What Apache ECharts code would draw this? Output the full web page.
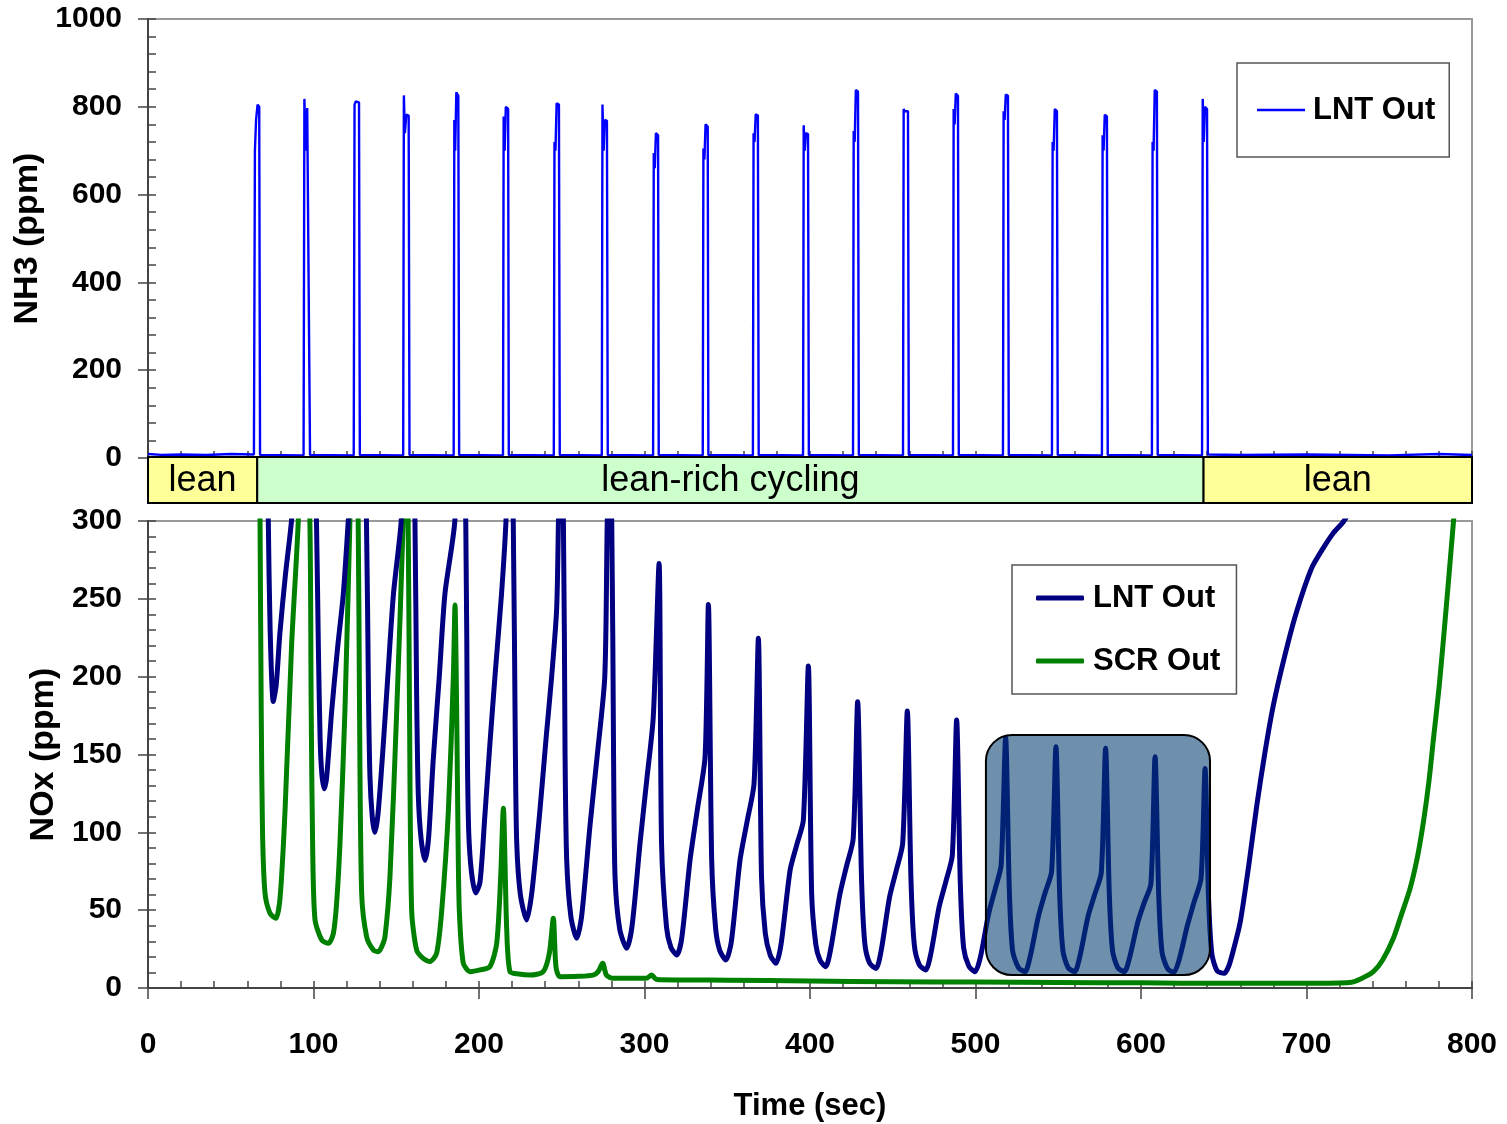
<!DOCTYPE html>
<html><head><meta charset="utf-8">
<script src="https://cdn.jsdelivr.net/npm/echarts@6/dist/echarts.min.js"></script>
<style>html,body{margin:0;padding:0;background:#fff}#c{width:1507px;height:1124px}</style>
</head><body><div id="c"></div>
<script>
// ---- tick values ----
const timeTicks = [0,100,200,300,400,500,600,700,800];
const nh3Ticks = [0,200,400,600,800,1000];
const noxTicks = [0,50,100,150,200,250,300];

// ---- series names ----
const nh3Name = 'NH3 LNT Out';
const lntName = 'NOx LNT Out';
const scrName = 'NOx SCR Out';

// ---- NH3 at LNT outlet [time s, ppm] ----
const nh3Points = [
[0,9],[8,7],[20,8],[35,7],[50,9],[64,8],
[64.6,700],[65.3,770],[66.2,805],[67.2,800],[67.7,7],
[94,6],[94.5,818],[95.3,700],[96.2,797],[97.3,795],[97.9,7],
[124.3,6],[124.8,805],[125.5,812],[126.6,812],[127.5,810],[128,7],
[154.2,6],[154.6,826],[155.2,740],[156.1,782],[157.5,780],[158,7],
[184.7,6],[185.1,770],[185.6,700],[186.3,833],[187.5,825],[188,7],
[214.5,6],[214.9,778],[215.5,700],[216.2,800],[217.6,795],[218,7],
[245.2,6],[245.6,720],[246.2,700],[246.9,808],[248.3,805],[248.8,7],
[274.2,6],[274.6,805],[275.3,700],[276,770],[277.3,768],[277.8,7],
[305.2,6],[305.6,695],[306.2,660],[306.9,740],[308.2,735],[308.6,7],
[335.2,6],[335.6,705],[336.2,680],[336.9,760],[338.2,755],[338.6,7],
[365.5,6],[365.9,740],[366.5,720],[367.2,783],[368.5,780],[369,7],
[395.8,6],[396.2,758],[396.8,700],[397.5,740],[398.8,738],[399.3,7],
[426,6],[426.4,745],[427,720],[427.7,838],[429,835],[429.5,7],
[456.2,6],[456.6,795],[457.2,790],[457.9,790],[459.2,790],[459.7,7],
[486.4,6],[486.8,795],[487.4,760],[488.1,830],[489.4,825],[489.9,7],
[516.6,6],[517,790],[517.6,770],[518.3,828],[519.6,825],[520.1,7],
[546.2,6],[546.6,720],[547.2,700],[547.9,795],[549.2,790],[549.7,7],
[576.4,6],[576.8,735],[577.4,700],[578.1,782],[579.4,778],[579.9,7],
[606.6,6],[607,720],[607.6,700],[608.3,838],[609.6,835],[610.1,7],
[636.9,6],[637.3,818],[637.9,720],[638.6,800],[639.9,795],[640.4,8],
[660,7],[700,8],[750,6],[780,9],[800,7]
];

// ---- NOx at LNT outlet [time s, ppm] (values above 300 run off the axis) ----
const lntNOx = [
[0,420],[71.5,420],[72.7,300],[73.8,230],[75.7,184],[77.5,195],[79.7,228],[83,265],[86.7,300],[98.7,450],
[101.8,300],[103,215],[104,160],[105,138],[106.5,128],[108,136],[111,178],[114.5,218],[118,253],[121,300],[128.7,430],
[132,300],[133.2,190],[134.1,136],[135.5,110],[137,100],[139,112],[142.2,157],[145.2,205],[148.3,253],[153,300],[158.7,420],
[161.3,300],[162.3,190],[163.3,125],[165,96],[167.4,82],[169.5,96],[172.3,146],[176,200],[179.4,253],[185.4,300],[188.7,400],
[192,300],[193,150],[193.8,100],[195.5,74],[198,61],[200.6,68],[203.5,110],[206.6,157],[210,205],[213.6,253],[216.3,300],[218.7,380],
[220.7,300],[222,150],[222.8,93],[225,60],[228.8,43.7],[232,62],[236.8,114],[240.5,160],[243.9,200],[246.9,243],[248,300],[248.8,350],
[251,300],[252,150],[253,82],[255.5,46],[259,31.9],[262,46],[267,103.6],[271.5,150],[276,200],[277.5,300],[278.5,330],
[280.2,300],[281.3,150],[282.2,71.5],[285,38],[289.2,25.5],[292.5,40],[297.3,93],[301.5,135],[305.3,174],[308.8,272.7],
[310.3,93],[313.3,39],[316,26],[319.5,21.2],[322.5,32],[327.5,82],[332,115],[336.6,148.6],[338.6,246.4],
[340.6,82],[343,38],[345.5,24],[349.2,18],[352.5,30],[357.7,82],[362,107],[366.2,131.5],[368.8,224.6],
[370.7,71.5],[373,35],[376,21],[379.4,15.9],[382.5,28],[388,75.8],[392,92],[396,108],[399,206.8],
[401,60.8],[403.5,28],[406,18],[409.5,13.7],[412.5,25],[418,60],[422,78],[426.1,96],[428.8,183.9],
[431.1,71.5],[433.1,28.7],[436,16],[439.9,12.6],[443,24],[448,58],[452,75],[456,93],[458.8,177.9],
[461,70],[463,28],[466,15],[469.9,11.6],[473,22],[478,52],[482,68],[486,85.4],[488.6,172.1],
[490.8,68],[492.8,26],[496,14],[499.7,10.5],[503,20],[508,48],[512,64],[515.5,79],[518.2,160.8],
[520.4,64],[522.4,24],[526,13],[529.9,10.5],[533,20],[538,46],[542,61],[546,75],[548.6,155],
[550.8,62],[552.8,24],[556,13],[559.9,10.5],[563,20],[568,46],[572,60],[576,74],[578.6,154],
[580.8,62],[582.8,24],[586,13],[589.9,10.5],[593,19],[598,42],[602,55],[606,67],[608.5,148.6],
[610.7,60],[612.7,23],[616,12.5],[619.8,10],[623,18],[628,40],[632,55],[636.3,70.5],[638.7,141],
[640.8,58],[642.8,22],[646,11],[650.2,9.4],[653,14],[656,25],[660,42.6],[665,78],[670,117.5],[675,152],
[680,181.8],[687,214],[694,241.7],[703,269.5],[710,282.4],[716,292],[722.3,299.5],[730,312],[800,380]
];

// ---- NOx at SCR outlet [time s, ppm] ----
const scrNOx = [
[0,420],[67,420],[67.7,300],[68.4,180],[69.2,100],[70.7,61],[73.7,48],[77.3,44.8],[79.8,58],[82.8,114],[86.8,221],[90.8,300],[94,420],
[97.8,300],[98.6,180],[99.5,90],[100.9,44],[105,30.8],[109,28.7],[112,35],[114,55],[116,93],[119,178.5],[122,300],[124.5,420],
[127,300],[127.8,180],[129.1,61],[132.1,33],[136.2,24.4],[139,23.3],[141,26],[143.2,33],[146.2,71.5],[150.3,178.5],[154.2,300],[155.7,380],
[157.2,300],[158,180],[159.3,50],[162.3,24.4],[166.3,19],[170.4,17],[174.4,22.3],[177.5,50],[181.5,114],[184.5,200],[185.5,246],
[186.5,178.5],[187.3,100],[188.1,50],[190.5,16],[194.6,10.5],[200.6,11.6],[206.6,13.7],[210.7,28.7],[213.1,71.5],[214.7,115.4],
[216.7,39],[218.7,10.5],[224,9],[230.8,8.3],[238.8,10.5],[242.5,22.3],[244.9,44.8],[246.5,13.7],[248.9,7.3],[260,7.5],[269,8.3],
[272,10.5],[274.7,15.9],[277,8.3],[281,6.2],[301,6.2],[304.3,8.3],[307.3,5.5],[350,5],[400,4.5],[450,4],[500,3.8],[550,3.5],
[600,3.3],[650,3],[700,3],[726,3.5],[733,6],[740.4,10.5],[746,18],[752.5,32],[757,46],[762.6,64],[767,84],[770.7,107],
[774,133],[776.7,160],[780,192],[782.8,224.6],[786,264],[788.8,299.5],[792,340]
];

// ---- operating-mode band ----
const bandLabels = ['lean','lean-rich cycling','lean'];
const bandStart = [0, 66, 637.8];
const bandEnd = [66, 637.8, 800];
const bandFill = ['#FFFF99','#CCFFCC','#FFFF99'];

// ---- highlighted region [t0, t1, yTop, yBottom] ----
const highlightBox = [[506.3, 641.7, 162.5, 8.3]];

const FONT = '"Liberation Sans", Arial, sans-serif';
const AX = '#444';
const stripName = n => n.replace(/^\S+ /, '');
const plain = v => String(v);

const gridL = 148, gridW = 1324;
const chart = echarts.init(document.getElementById('c'), null, {renderer:'canvas'});

function mainX(gi, showLabels){
  return {type:'value', gridIndex:gi, position:'bottom', min:timeTicks[0], max:timeTicks[timeTicks.length-1],
    interval:timeTicks[1]-timeTicks[0],
    axisLine:{show:true, onZero:false, lineStyle:{color:AX, width:2}},
    axisTick:{show:true, inside:false, length:11, lineStyle:{color:AX, width:1.5}},
    axisLabel:{show:showLabels, margin:42, formatter:plain, color:'#000', fontFamily:FONT, fontWeight:'bold', fontSize:30},
    splitLine:{show:false}};
}
function minorX(gi){
  return {type:'value', gridIndex:gi, position:'bottom', min:timeTicks[0], max:timeTicks[timeTicks.length-1], interval:20,
    axisLine:{show:false, onZero:false}, axisTick:{show:true, inside:true, length:7, lineStyle:{color:AX, width:1.5}},
    axisLabel:{show:false}, splitLine:{show:false}};
}
function mainY(gi, ticks, name, gap){
  return {type:'value', gridIndex:gi, position:'left', min:ticks[0], max:ticks[ticks.length-1], interval:ticks[1]-ticks[0],
    name:name, nameLocation:'middle', nameGap:gap, nameRotate:90,
    nameTextStyle:{color:'#000', fontFamily:FONT, fontWeight:'bold', fontSize:34},
    axisLine:{show:true, onZero:false, lineStyle:{color:AX, width:2}},
    axisTick:{show:true, inside:false, length:10, lineStyle:{color:AX, width:1.5}},
    axisLabel:{show:true, margin:26, formatter:plain, color:'#000', fontFamily:FONT, fontWeight:'bold', fontSize:30},
    splitLine:{show:false}};
}
function minorY(gi, ticks, step){
  return {type:'value', gridIndex:gi, position:'left', min:ticks[0], max:ticks[ticks.length-1], interval:step,
    axisLine:{show:false, onZero:false}, axisTick:{show:true, inside:true, length:8, lineStyle:{color:AX, width:1.5}},
    axisLabel:{show:false}, splitLine:{show:false}};
}

const option = {
  animation:false,
  backgroundColor:'#fff',
  grid:[
    {left:gridL, width:gridW, top:19, height:439, show:true, borderColor:'#999', borderWidth:2, backgroundColor:'transparent'},
    {left:gridL, width:gridW, top:457, height:46, show:false},
    {left:gridL, width:gridW, top:521, height:467, show:true, borderColor:'#999', borderWidth:2, backgroundColor:'transparent'}
  ],
  xAxis:[
    mainX(0,false), minorX(0),
    {type:'value', gridIndex:1, min:0, max:800, show:false},
    Object.assign(mainX(2,true), {name:'Time (sec)', nameLocation:'middle', nameGap:103,
      nameTextStyle:{color:'#000', fontFamily:FONT, fontWeight:'bold', fontSize:31}}),
    minorX(2)
  ],
  yAxis:[
    mainY(0, nh3Ticks, 'NH3 (ppm)', 103), minorY(0, nh3Ticks, 40),
    {type:'value', gridIndex:1, min:0, max:1, show:false},
    mainY(2, noxTicks, 'NOx (ppm)', 83), minorY(2, noxTicks, 10)
  ],
  legend:[
    {data:[nh3Name], formatter:stripName, selectedMode:false, left:1237, top:63, icon:'rect',
     padding:[29,14,29,20], itemWidth:48, itemHeight:2.5, itemGap:0,
     borderColor:'#555', borderWidth:1.5,
     textStyle:{color:'#000', fontFamily:FONT, fontWeight:'bold', fontSize:31, lineHeight:36, padding:[0,0,0,3]}},
    {data:[lntName, scrName], formatter:stripName, selectedMode:false, orient:'vertical', left:1012, top:565, icon:'roundRect',
     padding:[15,16,15,24], itemWidth:48, itemHeight:5, itemGap:27,
     borderColor:'#555', borderWidth:1.5,
     textStyle:{color:'#000', fontFamily:FONT, fontWeight:'bold', fontSize:31, lineHeight:36, padding:[0,0,0,4]}}
  ],
  series:[
    {name:nh3Name, type:'line', xAxisIndex:0, yAxisIndex:0, data:nh3Points, showSymbol:false, symbol:'none',
     lineStyle:{color:'#0000FF', width:2.4}, itemStyle:{color:'#0000FF'}, clip:true, z:3},
    {name:scrName, type:'line', xAxisIndex:3, yAxisIndex:3, data:scrNOx, showSymbol:false, symbol:'none', smooth:0.25,
     lineStyle:{color:'#008000', width:5, cap:'round', join:'round'}, itemStyle:{color:'#008000'}, clip:true, z:3},
    {name:lntName, type:'line', xAxisIndex:3, yAxisIndex:3, data:lntNOx, showSymbol:false, symbol:'none', smooth:0.25,
     lineStyle:{color:'#000080', width:5, cap:'round', join:'round'}, itemStyle:{color:'#000080'}, clip:true, z:4},
    {name:'band', type:'custom', xAxisIndex:2, yAxisIndex:2, clip:false, z:6,
     data:bandStart.map((s,i)=>[s, bandEnd[i]]), encode:{x:[0,1]},
     renderItem:function(params, api){
       const i = params.dataIndex;
       const p0 = api.coord([api.value(0), 1]);
       const p1 = api.coord([api.value(1), 0]);
       return {type:'group', children:[
         {type:'rect', shape:{x:p0[0], y:p0[1], width:p1[0]-p0[0], height:p1[1]-p0[1]},
          style:{fill:bandFill[i], stroke:'#000', lineWidth:2}},
         {type:'text', style:{text:bandLabels[i], x:(p0[0]+p1[0])/2, y:(p0[1]+p1[1])/2+1,
          align:'center', verticalAlign:'middle', fontFamily:FONT, fontSize:36, fill:'#000'}}
       ]};
     }},
    {name:'highlight', type:'custom', xAxisIndex:3, yAxisIndex:3, clip:false, z:10,
     data:highlightBox, encode:{x:[0,1], y:[2,3]},
     renderItem:function(params, api){
       const p0 = api.coord([api.value(0), api.value(2)]);
       const p1 = api.coord([api.value(1), api.value(3)]);
       return {type:'rect', shape:{x:p0[0], y:p0[1], width:p1[0]-p0[0], height:p1[1]-p0[1], r:26},
         style:{fill:'rgba(2,60,109,0.57)', stroke:'#000', lineWidth:2}};
     }}
  ]
};
chart.setOption(option);
</script></body></html>
